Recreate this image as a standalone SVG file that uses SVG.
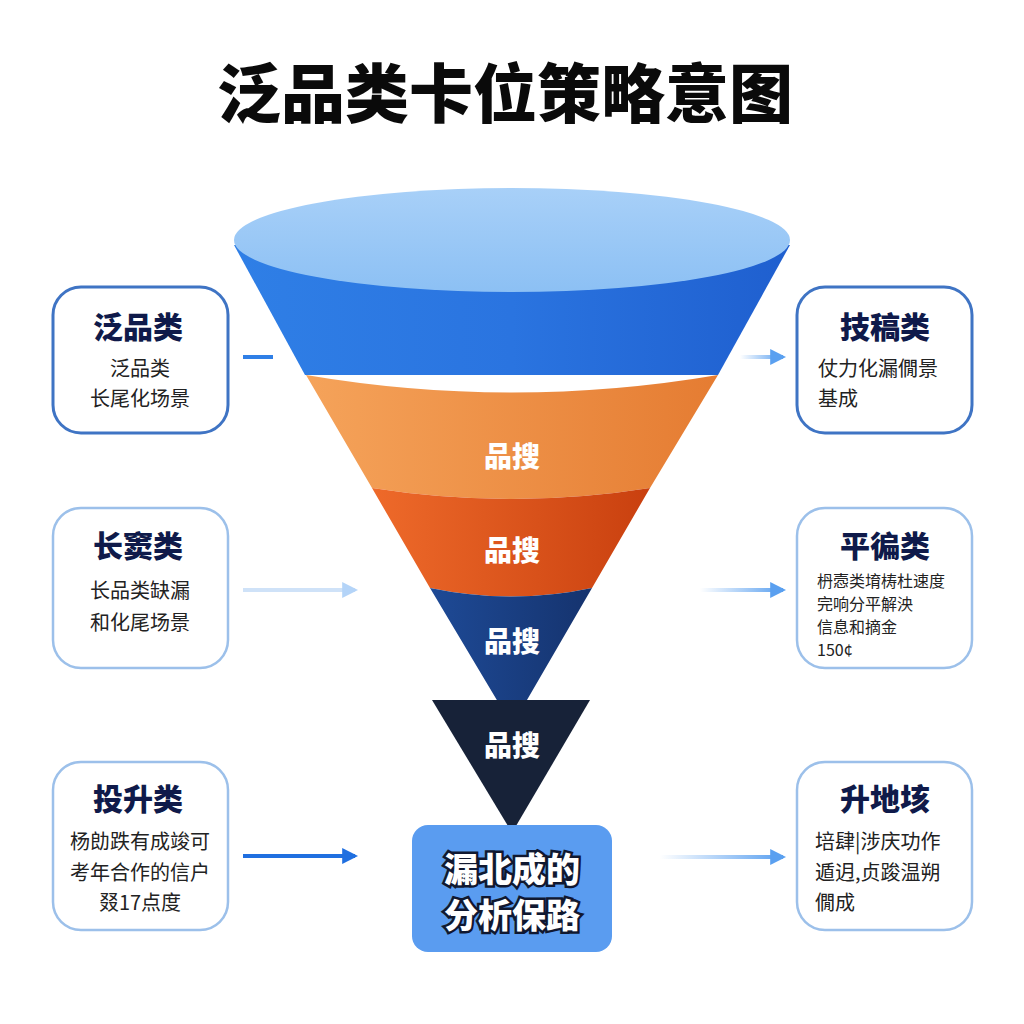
<svg xmlns="http://www.w3.org/2000/svg" width="1024" height="1024" viewBox="0 0 1024 1024">
<defs>
<linearGradient id="gBlue" x1="0" y1="0" x2="1" y2="0"><stop offset="0" stop-color="#2f7fe6"/><stop offset="0.5" stop-color="#2a74e0"/><stop offset="1" stop-color="#1f5fcf"/></linearGradient>
<linearGradient id="gTop" x1="0" y1="0" x2="0" y2="1"><stop offset="0" stop-color="#a8d0f8"/><stop offset="1" stop-color="#8cc0f4"/></linearGradient>
<linearGradient id="gOr" x1="0" y1="0" x2="1" y2="0"><stop offset="0" stop-color="#f5a35a"/><stop offset="1" stop-color="#e57c32"/></linearGradient>
<linearGradient id="gRed" x1="0" y1="0" x2="1" y2="0"><stop offset="0" stop-color="#ee6a2a"/><stop offset="1" stop-color="#c9400f"/></linearGradient>
<linearGradient id="gNavy" x1="0" y1="0" x2="1" y2="0"><stop offset="0" stop-color="#1e4a96"/><stop offset="1" stop-color="#15336e"/></linearGradient>
<linearGradient id="a1" gradientUnits="userSpaceOnUse" x1="740" y1="0" x2="783" y2="0"><stop offset="0" stop-color="#5aa0f0" stop-opacity="0"/><stop offset="1" stop-color="#5aa0f0"/></linearGradient>
<linearGradient id="a2" gradientUnits="userSpaceOnUse" x1="700" y1="0" x2="783" y2="0"><stop offset="0" stop-color="#5aa0f0" stop-opacity="0"/><stop offset="1" stop-color="#5aa0f0"/></linearGradient>
<linearGradient id="a3" gradientUnits="userSpaceOnUse" x1="660" y1="0" x2="783" y2="0"><stop offset="0" stop-color="#5aa0f0" stop-opacity="0"/><stop offset="1" stop-color="#5aa0f0"/></linearGradient>
<marker id="ahB" viewBox="0 0 10 10" refX="8" refY="5" markerWidth="4" markerHeight="4" orient="auto"><path d="M0,0 L10,5 L0,10 z" fill="#5aa0f0"/></marker>
<marker id="ahL" viewBox="0 0 10 10" refX="8" refY="5" markerWidth="4" markerHeight="4" orient="auto"><path d="M0,0 L10,5 L0,10 z" fill="#b4d4f8"/></marker>
<marker id="ahD" viewBox="0 0 10 10" refX="8" refY="5" markerWidth="4" markerHeight="4" orient="auto"><path d="M0,0 L10,5 L0,10 z" fill="#1f6fe0"/></marker>
</defs>
<style>
text{font-family:"Noto Sans CJK SC","Liberation Sans",sans-serif;}
.title{font-size:64px;font-weight:900;fill:#0a0a0a;}
.box{fill:#fff;stroke:#3f74c4;stroke-width:3;}
.boxl{fill:#fff;stroke:#9cc0ea;stroke-width:2.5;}
.h{font-size:30px;font-weight:900;fill:#0f1a4a;text-anchor:middle;}
.t{font-size:20px;fill:#222;}
.f{font-size:28px;font-weight:900;fill:#fff;text-anchor:middle;}
.c{font-size:34px;font-weight:900;fill:#fff;stroke:#101830;stroke-width:5;paint-order:stroke;text-anchor:middle;}
</style>
<rect width="1024" height="1024" fill="#fff"/>
<text class="title" x="505" y="117" text-anchor="middle">泛品类卡位策略意图</text>

<g id="funnel">
<path d="M234,245 L305,375 L718,375 L790,245 Z" fill="url(#gBlue)"/>
<ellipse cx="512" cy="240" rx="278" ry="52" fill="url(#gTop)"/>
<path d="M306,375 Q512,410 718,375 L650,488 Q512,510 372,488 Z" fill="url(#gOr)"/>
<path d="M372,488 Q512,510 650,488 L592,588 Q512,605 430,588 Z" fill="url(#gRed)"/>
<path d="M430,588 Q512,605 592,588 L520,712 Q512,720 504,712 Z" fill="url(#gNavy)"/>
<path d="M432,700 L590,700 L516,826 Q512,832 508,826 Z" fill="#172238"/>
<text class="f" x="512" y="467">品搜</text>
<text class="f" x="512" y="561">品搜</text>
<text class="f" x="512" y="652">品搜</text>
<text class="f" x="512" y="756">品搜</text>
</g>

<g id="center">
<rect x="412" y="825" width="200" height="127" rx="16" fill="#5a9cf0"/>
<text class="c" x="512" y="882">漏北成的</text>
<text class="c" x="512" y="928">分析保路</text>
</g>

<g id="n1"><rect class="box" x="53" y="287" width="175" height="146" rx="28"/>
<text class="h" x="138" y="338">泛品类</text>
<text class="t" x="140" y="376" text-anchor="middle">泛品类</text>
<text class="t" x="140" y="406" text-anchor="middle">长尾化场景</text></g>
<g id="n2"><rect class="boxl" x="53" y="508" width="175" height="160" rx="28"/>
<text class="h" x="138" y="557">长窦类</text>
<text class="t" x="140" y="598" text-anchor="middle">长品类缺漏</text>
<text class="t" x="140" y="630" text-anchor="middle">和化尾场景</text></g>
<g id="n3"><rect class="boxl" x="53" y="762" width="175" height="168" rx="28"/>
<text class="h" x="138" y="810">投升类</text>
<text class="t" x="140" y="849" text-anchor="middle">杨勆跌有成竣可</text>
<text class="t" x="140" y="880" text-anchor="middle">考年合作的信户</text>
<text class="t" x="140" y="910" text-anchor="middle">叕17点度</text></g>
<g id="n4"><rect class="box" x="797" y="287" width="175" height="146" rx="28"/>
<text class="h" x="885" y="338">技稿类</text>
<text class="t" x="818" y="376">仗力化漏僩景</text>
<text class="t" x="818" y="406">基成</text></g>
<g id="n5"><rect class="boxl" x="797" y="508" width="175" height="160" rx="28"/>
<text class="h" x="885" y="557">平徧类</text>
<text class="t" x="817" y="587" style="font-size:16px">枬悫类堉梼杜速度</text>
<text class="t" x="817" y="610" style="font-size:16px">完响分平解泱</text>
<text class="t" x="817" y="633" style="font-size:16px">信息和摘金</text>
<text class="t" x="817" y="656" style="font-size:16px">150¢</text></g>
<g id="n6"><rect class="boxl" x="797" y="762" width="175" height="168" rx="28"/>
<text class="h" x="885" y="810">升地垓</text>
<text class="t" x="815" y="849">培肆|涉庆功作</text>
<text class="t" x="815" y="880">遁迌,贞踆温朔</text>
<text class="t" x="815" y="910">僩成</text></g>

<g id="connectors" fill="none" stroke-width="4">
<line x1="243" y1="357" x2="273" y2="357" stroke="#2f7fe6"/>
<line x1="243" y1="590" x2="355" y2="590" stroke="#cfe2f8" marker-end="url(#ahL)"/>
<line x1="243" y1="856" x2="355" y2="856" stroke="#1f6fe0" marker-end="url(#ahD)"/>
<line x1="740" y1="357" x2="783" y2="357" stroke="url(#a1)" marker-end="url(#ahB)"/>
<line x1="700" y1="590" x2="783" y2="590" stroke="url(#a2)" marker-end="url(#ahB)"/>
<line x1="660" y1="857" x2="783" y2="857" stroke="url(#a3)" marker-end="url(#ahB)"/>
</g>
</svg>
